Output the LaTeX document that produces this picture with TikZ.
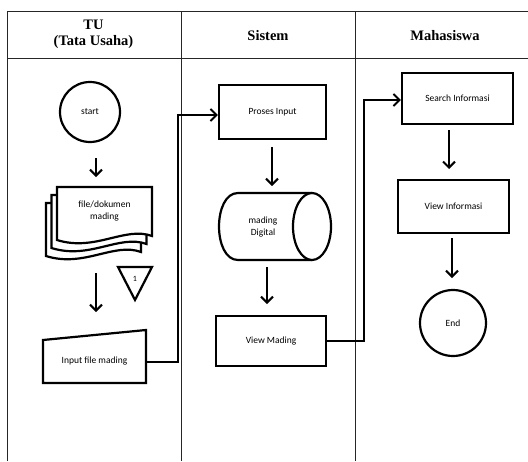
\documentclass[tikz,border=0pt]{standalone}
\usepackage{fontspec}
\setmainfont{Liberation Serif}
\newfontfamily\carl{Carlito}
\usetikzlibrary{arrows.meta}
\begin{document}
\begin{tikzpicture}[x=1pt,y=-1pt,
  lane/.style={line width=0.9pt, draw=black!85},
  shp/.style={draw, line width=2.2pt, fill=white},
  lbl/.style={font=\carl\fontsize{9.5}{11.5}\selectfont, align=center},
  box/.style={shp, lbl, inner sep=0pt},
  term/.style={shp, lbl, circle, inner sep=0pt},
  arr/.style={line width=2pt, -{Straight Barb[length=6pt,width=12pt,line width=2pt]}},
  head/.style={font=\bfseries\fontsize{14.5}{16}\selectfont, align=center}]
\useasboundingbox (0,0) rectangle (528,461);
\fill[white] (0,0) rectangle (528,461);

% swimlane frame
\draw[lane] (7,461) -- (7,11) -- (528,11);
\draw[lane] (7,58) -- (528,58);
\draw[lane] (181,11) -- (181,461);
\draw[lane] (355,11) -- (355,461);

\node[head] (h1) at (93.5,34) {TU\\(Tata Usaha)};
\node[head] (h2) at (268,36) {Sistem};
\node[head] (h3) at (445,36) {Mahasiswa};

% TU lane
\node[term, minimum size=60pt] (start) at (90,112) {start};

\foreach \dx/\dy in {-11/16, -5.5/8, 0/0}{
  \draw[shp] (57+\dx,187+\dy) -- (152+\dx,187+\dy) -- (152+\dx,236+\dy)
     .. controls (125+\dx,226+\dy) and (95+\dx,252+\dy) .. (57+\dx,240+\dy) -- cycle;
}
\node[lbl] (doc) at (104.5,211) {file/dokumen\\mading};

\draw[shp] (118,267) -- (152,267) -- (135,300) -- cycle;
\node[font=\carl\fontsize{8}{9}\selectfont] (off1) at (135,279) {1};

\coordinate (inpc) at (94.5,361.5);
\draw[shp] (43,383) -- (146,383) -- (146,330) -- (43,340) -- cycle;
\node[lbl, minimum width=103pt, minimum height=43pt, inner sep=0pt] (inp) at (inpc) {Input file mading};

\coordinate (a1s) at (96,158); \coordinate (a1e) at (96,177);
\coordinate (a2s) at (96,273); \coordinate (a2e) at (96,312);
\draw[arr] (a1s) -- (a1e);
\draw[arr] (a2s) -- (a2e);

% Sistem lane
\node[box, minimum width=107pt, minimum height=54pt] (proses) at (272.5,112) {Proses Input};

\draw[shp] (312,193) -- (238,193) .. controls (212.7,193) and (212.7,260) .. (238,260) -- (312,260);
\draw[shp] (312,226.5) ellipse [x radius=19, y radius=33.5];
\node[lbl] (cyl) at (263,227) {mading\\Digital};

\node[box, minimum width=110pt, minimum height=50pt] (vm) at (271,341) {View Mading};

\coordinate (a3s) at (272,147); \coordinate (a3e) at (272,186);
\coordinate (a4s) at (267,267); \coordinate (a4e) at (267,304);
\draw[arr] (a3s) -- (a3e);
\draw[arr] (a4s) -- (a4e);

% Mahasiswa lane
\node[box, minimum width=111pt, minimum height=51pt] (search) at (457.5,98.5) {Search Informasi};
\node[box, minimum width=111pt, minimum height=53pt] (vinfo) at (453.5,206.5) {View Informasi};
\node[term, minimum size=66pt] (end) at (453,323) {End};

\coordinate (a5s) at (449,130); \coordinate (a5e) at (449,169);
\coordinate (a6s) at (452,238); \coordinate (a6e) at (452,278);
\draw[arr] (a5s) -- (a5e);
\draw[arr] (a6s) -- (a6e);

% cross-lane connectors
\coordinate (c1) at (178,115);
\draw[arr] (inp.east) -| (c1) -- (proses.west |- c1);
\coordinate (c2) at (364,100);
\draw[arr] (vm.east) -| (c2) -- (search.west |- c2);
\end{tikzpicture}
\end{document}
